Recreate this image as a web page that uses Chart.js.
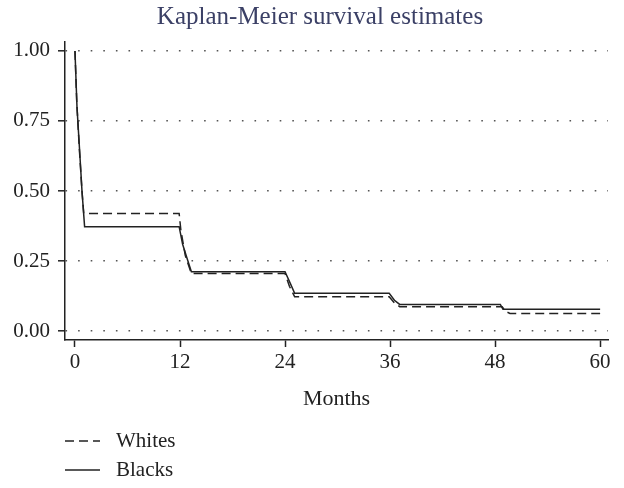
<!DOCTYPE html>
<html>
<head>
<meta charset="utf-8">
<script src="https://cdn.jsdelivr.net/npm/chart.js@4/dist/chart.umd.min.js"></script>
<style>
  html, body { margin: 0; padding: 0; background: #fff; }
  #wrap { position: relative; width: 624px; height: 488px; }
  #legend { position: absolute; left: 65px; top: 426px; font-family: "Liberation Serif", serif; font-size: 21px; color: #222; }
  #legend div { height: 29px; display: flex; align-items: center; }
  #legend svg { margin-right: 16px; }
</style>
</head>
<body>
<div id="wrap">
  <canvas id="myChart" width="624" height="488"></canvas>
  <div id="legend"></div>
</div>
<script>
// values
let monthsWhites = [0, 0.2, 0.5, 0.8, 1.0, 11.9, 12.1, 12.6, 13.3, 24.0, 24.5, 25.1, 35.9, 36.5, 37.1, 48.8, 49.2, 49.7, 60];
let survWhites = [1.0, 0.82, 0.65, 0.50, 0.42, 0.42, 0.36, 0.27, 0.205, 0.205, 0.16, 0.1225, 0.1225, 0.10, 0.087, 0.087, 0.07, 0.063, 0.063];

let monthsBlacks = [0, 0.23, 0.5, 0.8, 1.1, 11.9, 12.3, 12.8, 13.3, 24.0, 24.6, 25.1, 35.9, 36.5, 37.1, 48.6, 48.9, 60];
let survBlacks = [1.0, 0.80, 0.66, 0.50, 0.3725, 0.3725, 0.31, 0.26, 0.212, 0.212, 0.17, 0.1345, 0.1345, 0.11, 0.095, 0.095, 0.0775, 0.0775];

let xTicks = [0, 12, 24, 36, 48, 60];
let yTicks = [0, 0.25, 0.5, 0.75, 1];

function toPoints(xs, ys) {
   return xs.map((x, i) => ({x: x, y: ys[i]}));
}

// shift the title a bit to the right, like the original
const titleShift = {
   id: "titleShift",
   afterLayout(chart) {
      if (chart.titleBlock) {
         chart.titleBlock.left = 32;
      }
   }
};

let serif = "'Liberation Serif', serif";
let ctx = document.getElementById('myChart').getContext('2d');
let kmChart = new Chart(ctx, {
   type: "line",
   data: {
      datasets: [{
         label: "Whites",
         data: toPoints(monthsWhites, survWhites),
         borderColor: '#222',
         borderWidth: 1.5,
         borderDash: [9, 5],
         pointRadius: 0,
         tension: 0
      }, {
         label: "Blacks",
         data: toPoints(monthsBlacks, survBlacks),
         borderColor: '#222',
         borderWidth: 1.5,
         pointRadius: 0,
         tension: 0
      }]
   },
   options: {
      responsive: false,
      animation: false,
      layout: { padding: { left: 0, right: 16, top: 0, bottom: 0 } },
      plugins: {
         legend: { display: false },
         tooltip: { enabled: false },
         title: {
            display: true,
            text: "Kaplan-Meier survival estimates",
            color: '#3b4066',
            font: { family: serif, size: 25, weight: 'normal' },
            padding: { top: 2, bottom: 10 }
         }
      },
      scales: {
         x: {
            type: 'linear',
            min: -1.14,
            max: 60.9,
            afterBuildTicks: (axis) => { axis.ticks = xTicks.map(v => ({value: v})); },
            afterFit: (axis) => { axis.height = 148; },
            grid: { drawOnChartArea: false, drawTicks: true, tickLength: 7, tickColor: '#222', tickWidth: 1.5 },
            border: { color: '#222', width: 1.5 },
            ticks: { color: '#222', font: { family: serif, size: 21 }, padding: 3, maxRotation: 0 },
            title: {
               display: true,
               text: "Months",
               color: '#222',
               font: { family: serif, size: 22 },
               padding: { top: 6, bottom: 76 }
            }
         },
         y: {
            min: -0.032,
            max: 1.032,
            afterBuildTicks: (axis) => { axis.ticks = yTicks.map(v => ({value: v})); },
            afterFit: (axis) => { axis.width = 65; },
            grid: {
               color: '#555',
               lineWidth: 1.6,
               borderDash: [1.6, 11],
               tickLength: 7,
               tickColor: '#222',
               tickWidth: 1.5
            },
            border: { color: '#222', width: 1.5, dash: [1.6, 11] },
            ticks: {
               color: '#222',
               font: { family: serif, size: 21 },
               padding: 8,
               callback: (v) => v.toFixed(2)
            }
         }
      }
   },
   plugins: [titleShift]
});

// legend rows built from the datasets
let legendBox = document.getElementById("legend");
kmChart.data.datasets.forEach(ds => {
   let row = document.createElement("div");
   let dash = ds.borderDash ? ds.borderDash.join(",") : "none";
   row.innerHTML = '<svg width="35" height="4"><line x1="0" y1="2" x2="35" y2="2" stroke="' + ds.borderColor +
      '" stroke-width="1.5" stroke-dasharray="' + dash + '"/></svg><span>' + ds.label + '</span>';
   legendBox.appendChild(row);
});
</script>
</body>
</html>
